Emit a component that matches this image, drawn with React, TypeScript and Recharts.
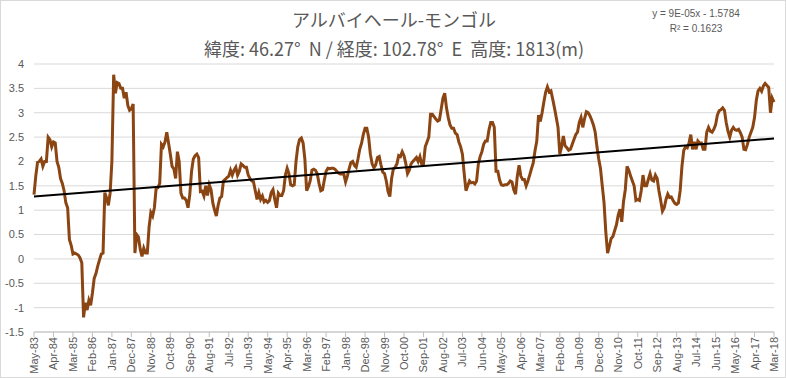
import { LineChart, Line, XAxis, YAxis, CartesianGrid, ReferenceLine } from "recharts";

// monthly values, May-83 .. Mar-18
const y1983 = [1.32, 1.7, 1.98, 2.0, 2.05, 1.9, 2.0, 2.0];
const y1984 = [2.5, 2.45, 2.3, 2.4, 2.38, 2.0, 1.88, 1.65, 1.55, 1.4, 1.15, 1.05];
const y1985 = [0.4, 0.28, 0.1, 0.12, 0.1, 0.08, 0.02, -0.08, -1.2, -0.9, -1.05, -0.85];
const y1986 = [-0.95, -0.7, -0.4, -0.3, -0.15, -0.02, 0.1, 0.12, 1.36, 1.25, 1.1, 1.35];
const y1987 = [2.0, 3.78, 3.4, 3.62, 3.6, 3.5, 3.5, 3.3, 3.42, 3.15, 3.05, 3.08];
const y1988 = [3.18, 0.12, 0.5, 0.45, 0.2, 0.05, 0.22, 0.12, 0.12, 0.65, 0.95, 0.88];
const y1989 = [1.05, 1.45, 1.46, 1.55, 2.35, 2.3, 2.4, 2.6, 2.38, 2.15, 1.9, 1.85];
const y1990 = [1.65, 2.2, 2.0, 1.35, 1.25, 1.25, 1.2, 1.05, 1.32, 1.8, 2.05, 2.12];
const y1991 = [2.15, 2.08, 1.38, 1.39, 1.29, 1.5, 1.3, 1.52, 1.42, 1.15, 1.0, 0.88];
const y1992 = [1.1, 1.25, 1.28, 1.6, 1.63, 1.67, 1.7, 1.82, 1.72, 1.82, 1.88, 1.72];
const y1993 = [1.8, 1.95, 1.92, 1.88, 1.88, 1.72, 1.65, 1.6, 1.58, 1.4, 1.22, 1.36];
const y1994 = [1.22, 1.29, 1.17, 1.2, 1.16, 1.2, 1.36, 1.42, 1.22, 1.05, 1.35, 1.3];
const y1995 = [1.3, 1.4, 1.72, 1.86, 1.75, 1.52, 1.5, 1.52, 2.0, 2.3, 2.45, 2.48];
const y1996 = [2.38, 2.05, 1.4, 1.48, 1.6, 1.82, 1.84, 1.82, 1.75, 1.55, 1.4, 1.42];
const y1997 = [1.62, 1.8, 1.86, 1.85, 1.86, 1.86, 1.84, 1.8, 1.76, 1.74, 1.74, 1.74];
const y1998 = [1.58, 1.7, 1.85, 1.98, 2.0, 1.92, 1.88, 2.05, 2.25, 2.37, 2.55, 2.68];
const y1999 = [2.68, 2.5, 2.15, 1.95, 1.87, 1.93, 2.08, 2.1, 1.93, 1.78, 1.75, 1.6];
const y2000 = [1.38, 1.28, 1.65, 1.85, 1.88, 1.95, 2.12, 2.1, 2.2, 2.12, 1.96, 1.75];
const y2001 = [1.82, 1.95, 2.0, 2.04, 2.08, 2.0, 2.1, 1.95, 1.95, 2.3, 2.4, 2.5];
const y2002 = [2.97, 2.97, 2.92, 2.87, 2.83, 2.85, 3.07, 3.3, 3.4, 3.1, 2.9, 2.75];
const y2003 = [2.68, 2.68, 2.58, 2.55, 2.4, 2.3, 2.15, 1.75, 1.4, 1.5, 1.6, 1.56];
const y2004 = [1.57, 1.54, 1.6, 1.95, 2.1, 2.2, 2.35, 2.42, 2.42, 2.65, 2.8, 2.8];
const y2005 = [2.7, 1.8, 1.8, 1.62, 1.52, 1.51, 1.52, 1.52, 1.55, 1.6, 1.58, 1.42];
const y2006 = [1.33, 1.7, 1.92, 1.7, 1.63, 1.63, 1.5, 1.6, 1.72, 1.85, 1.97, 2.22];
const y2007 = [2.42, 2.95, 2.82, 3.0, 3.22, 3.42, 3.53, 3.43, 3.45, 3.28, 3.1, 2.9];
const y2008 = [2.7, 2.15, 2.3, 2.52, 2.32, 2.28, 2.23, 2.25, 2.35, 2.45, 2.55, 2.6];
const y2009 = [2.8, 2.9, 2.7, 2.88, 3.02, 3.0, 2.94, 2.85, 2.75, 2.6, 2.3, 2.05];
const y2010 = [1.85, 1.5, 1.15, 0.55, 0.12, 0.26, 0.42, 0.46, 0.58, 0.7, 0.9, 1.02];
const y2011 = [0.76, 1.18, 1.42, 1.9, 1.82, 1.7, 1.6, 1.5, 1.2, 1.22, 1.2, 1.4];
const y2012 = [1.72, 1.5, 1.5, 1.63, 1.75, 1.62, 1.6, 1.72, 1.65, 1.4, 1.2, 0.98];
const y2013 = [1.05, 1.22, 1.33, 1.26, 1.27, 1.2, 1.14, 1.12, 1.15, 1.4, 1.9, 2.22];
const y2014 = [2.3, 2.28, 2.38, 2.55, 2.25, 2.4, 2.25, 2.42, 2.38, 2.38, 2.25, 2.25];
const y2015 = [2.6, 2.7, 2.62, 2.6, 2.66, 2.75, 2.95, 3.04, 3.06, 3.1, 3.05, 2.8];
const y2016 = [2.62, 2.5, 2.64, 2.7, 2.65, 2.64, 2.66, 2.59, 2.5, 2.25, 2.24, 2.35];
const y2017 = [2.5, 2.6, 2.7, 2.9, 3.25, 3.45, 3.5, 3.44, 3.55, 3.6, 3.56, 3.52];
const y2018 = [3.0, 3.3, 3.22];

const values = [
  ...y1983, ...y1984, ...y1985, ...y1986, ...y1987, ...y1988, ...y1989, ...y1990,
  ...y1991, ...y1992, ...y1993, ...y1994, ...y1995, ...y1996, ...y1997, ...y1998,
  ...y1999, ...y2000, ...y2001, ...y2002, ...y2003, ...y2004, ...y2005, ...y2006,
  ...y2007, ...y2008, ...y2009, ...y2010, ...y2011, ...y2012, ...y2013, ...y2014,
  ...y2015, ...y2016, ...y2017, ...y2018,
];

const monthNames = ["Jan", "Feb", "Mar", "Apr", "May", "Jun", "Jul", "Aug", "Sep", "Oct", "Nov", "Dec"];
const yTicks = [-1.5, -1, -0.5, 0, 0.5, 1, 1.5, 2, 2.5, 3, 3.5, 4];
const trendStart = 1.28;
const trendEnd = 2.47;

const data = values.map((v, i) => {
  const m = (4 + i) % 12;
  const yr = 83 + Math.floor((4 + i) / 12);
  return { label: `${monthNames[m]}-${String(yr % 100).padStart(2, "0")}`, value: v };
});

const gray = "#595959";

const XTick = ({ x, y, payload }: any) => (
  <g transform={`translate(${x},${y - 2})`}>
    <text
      x={0}
      y={0}
      dy={4}
      textAnchor="end"
      transform="rotate(-90)"
      fill={gray}
      fontSize={11}
      fontFamily="'Liberation Sans', Arial, sans-serif"
    >
      {payload.value}
    </text>
  </g>
);

export default function App() {
  return (
    <div
      style={{
        position: "fixed",
        left: 0,
        top: 0,
        width: 786,
        height: 378,
        background: "#fff",
        border: "1px solid #d9d9d9",
        boxSizing: "border-box",
        overflow: "hidden",
      }}
    >
      <div
        style={{
          position: "absolute",
          left: 0,
          top: 5,
          width: 786,
          textAlign: "center",
          fontFamily: "'Noto Sans CJK JP', sans-serif",
          fontSize: 18,
          color: gray,
          lineHeight: "26px",
        }}
      >
        アルバイヘール-モンゴル
      </div>
      <div
        style={{
          position: "absolute",
          left: 0,
          top: 34,
          width: 786,
          textAlign: "center",
          fontFamily: "'Noto Sans CJK JP', sans-serif",
          fontSize: 18,
          color: gray,
          lineHeight: "26px",
          whiteSpace: "pre",
        }}
      >
        {"緯度: 46.27°  N / 経度: 102.78°  E  高度: 1813(m)"}
      </div>
      <div
        style={{
          position: "absolute",
          left: 640,
          top: 5,
          width: 110,
          textAlign: "center",
          fontFamily: "'Liberation Sans', Arial, sans-serif",
          fontSize: 10,
          color: gray,
          lineHeight: "15px",
        }}
      >
        <div>y = 9E-05x - 1.5784</div>
        <div>R² = 0.1623</div>
      </div>
      <div style={{ position: "absolute", left: 0, top: 0 }}>
        <LineChart
          width={786}
          height={378}
          data={data}
          margin={{ top: 63, right: 13, bottom: 0, left: 0 }}
        >
          <CartesianGrid vertical={false} stroke="#d9d9d9" />
          <XAxis
            dataKey="label"
            interval={10}
            height={47}
            tick={<XTick />}
            tickLine={{ stroke: "#bfbfbf" }}
            tickSize={5}
            axisLine={{ stroke: "#bfbfbf" }}
          />
          <YAxis
            width={33}
            domain={[-1.5, 4]}
            ticks={yTicks}
            tickLine={false}
            axisLine={false}
            tickSize={0}
            tickMargin={10}
            tick={{ fill: gray, fontSize: 11, fontFamily: "'Liberation Sans', Arial, sans-serif" }}
          />
          <Line
            type="linear"
            dataKey="value"
            stroke="#8B4513"
            strokeWidth={3}
            dot={false}
            isAnimationActive={false}
          />
          <ReferenceLine
            segment={[
              { x: data[0].label, y: trendStart },
              { x: data[data.length - 1].label, y: trendEnd },
            ]}
            stroke="#000"
            strokeWidth={2}
          />
        </LineChart>
      </div>
    </div>
  );
}
